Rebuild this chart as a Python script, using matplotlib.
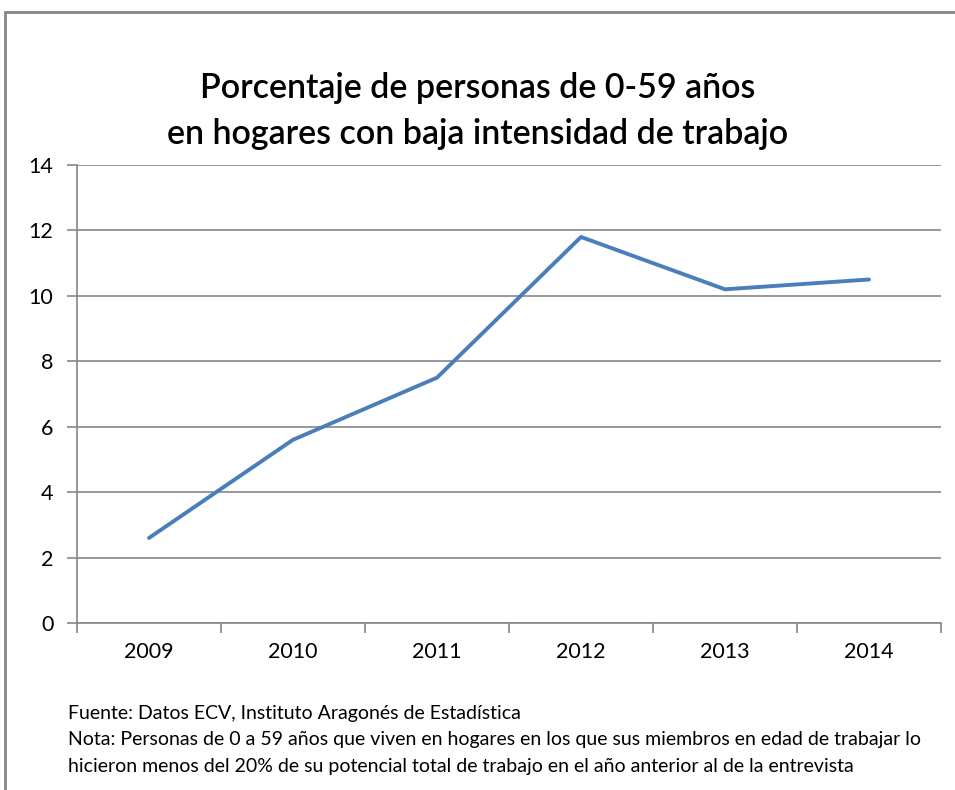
import matplotlib
matplotlib.use("Agg")
from matplotlib import pyplot as plt
from matplotlib.patches import Rectangle
import numpy as np

years = ["2009", "2010", "2011", "2012", "2013", "2014"]
valores = [2.6, 5.6, 7.5, 11.8, 10.2, 10.5]
yticks = [0, 2, 4, 6, 8, 10, 12, 14]

titulo = "Porcentaje de personas de 0-59 años\nen hogares con baja intensidad de trabajo"
nota = ("Fuente: Datos ECV, Instituto Aragonés de Estadística\n"
        "Nota: Personas de 0 a 59 años que viven en hogares en los que sus miembros en edad de trabajar lo\n"
        "hicieron menos del 20% de su potencial total de trabajo en el año anterior al de la entrevista")

plt.rcParams['font.family'] = ['Lato', 'DejaVu Sans']
gris = "#868686"

fig = plt.figure(figsize=(9.55, 7.9), dpi=100)
ax = fig.add_axes([77/955, 1-623/790, (941-77)/955, (623-165)/790])

x = np.arange(len(years))
ax.plot(x, valores, color="#4A7EBB", linewidth=2.8, solid_capstyle="round")

ax.set_xlim(-0.5, len(years) - 0.5)
ax.set_ylim(0, 14)
ax.set_yticks(yticks)
ax.set_xticks(x)
ax.set_xticklabels(years)
ax.set_xticks(np.arange(len(years) + 1) - 0.5, minor=True)
ax.tick_params(axis="x", which="major", length=0, pad=14, labelsize=15.5)
ax.tick_params(axis="x", which="minor", length=7, color=gris, width=1.2)
ax.tick_params(axis="y", length=7, color=gris, width=1.2, pad=10, labelsize=15.5)
ax.grid(axis="y", color=gris, linewidth=1.2)
ax.set_axisbelow(True)
for s in ["top", "right"]:
    ax.spines[s].set_visible(False)
for s in ["left", "bottom"]:
    ax.spines[s].set_color(gris)
    ax.spines[s].set_linewidth(1.2)

fig.text(0.5, 1-111/790, titulo, ha="center", va="center", fontsize=24.5,
         fontweight="semibold", linespacing=1.55)
fig.text(68/955, 1-740/790, nota, ha="left", va="center", fontsize=14,
         linespacing=1.7)

fig.patches.append(Rectangle((5/955, -0.1), 1.2, 1-12/790+0.1, transform=fig.transFigure,
                             fill=False, edgecolor=gris, linewidth=2))

plt.savefig("out.png", dpi=100)
